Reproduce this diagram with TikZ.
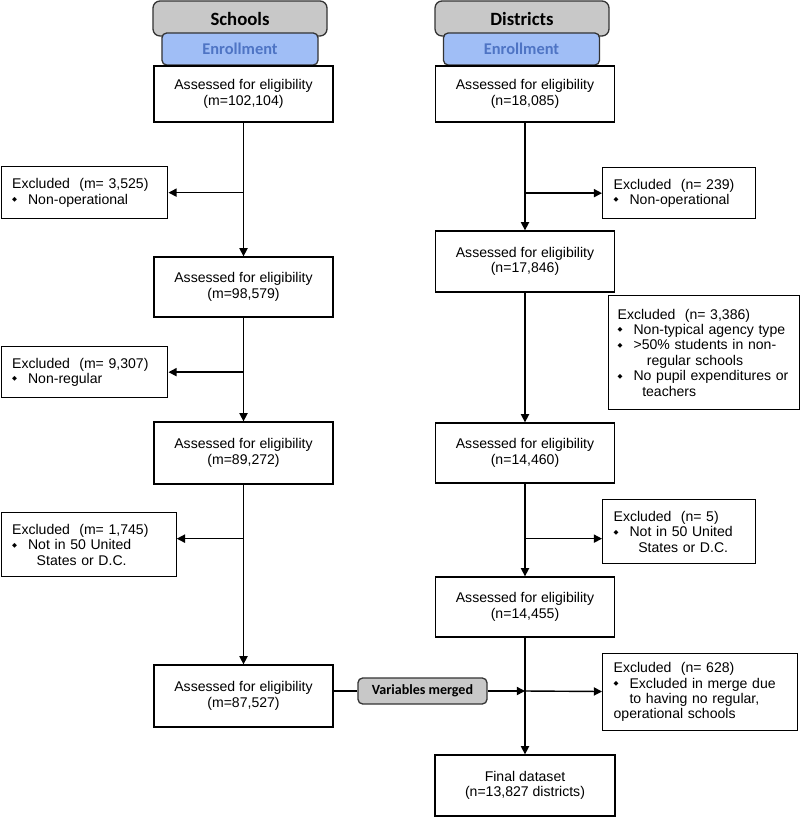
\documentclass[tikz,border=0pt]{standalone}
\usepackage{fontspec}
\setmainfont{Liberation Sans}
\newfontfamily\carlito{Carlito}
\newfontfamily\symfont{DejaVu Sans}
\usetikzlibrary{arrows.meta}
\definecolor{headgray}{RGB}{200,200,200}
\definecolor{enrollblue}{RGB}{160,190,246}
\definecolor{enrolltext}{RGB}{78,116,196}
\newcommand{\bul}{\makebox[13.6pt][l]{\raisebox{0.35ex}{\symfont\fontsize{5.5}{5.5}\selectfont ◆}}}
\newcommand{\ind}[1]{\hspace*{#1}}
\begin{document}
\begin{tikzpicture}[x=0.03cm,y=-0.03cm,
        box/.style={draw,line width=1.1pt,minimum width=5.37cm,align=center,font=\fontsize{12}{13.2}\selectfont},
        excl/.style={draw,line width=1.1pt,anchor=north west,align=left,inner xsep=0.33cm,font=\fontsize{12}{13.2}\selectfont},
        head/.style={draw=black!80,fill=headgray,rounded corners=6pt,line width=1.1pt,minimum width=5.22cm,minimum height=1.05cm,font=\carlito\bfseries\fontsize{16}{18}\selectfont},
        enroll/.style={draw=black!80,fill=enrollblue,rounded corners=4pt,line width=1.1pt,minimum width=4.68cm,minimum height=0.96cm,text=enrolltext,font=\carlito\bfseries\fontsize{14}{16}\selectfont},
        merge/.style={draw=black!80,fill=headgray,rounded corners=4pt,line width=1.1pt,minimum width=3.87cm,minimum height=0.78cm,font=\carlito\bfseries\fontsize{12}{14}\selectfont},
        arr/.style={line width=1.2pt,-{Triangle[length=7pt,width=7pt]}}]
    \useasboundingbox (0,0) rectangle (800,817);
    \node[head] (SchHead) at (240,18.5) {Schools};
    \node[enroll] (SchEnr) at (240,49) {Enrollment};
    \node[head] (DisHead) at (522,18.5) {Districts};
    \node[enroll] (DisEnr) at (521.5,49) {Enrollment};

    \node[box,minimum height=1.68cm] (L1) at (243.5,94) {Assessed for eligibility\\(m=102,104)};
    \node[box,minimum height=1.8cm] (L2) at (243.5,287) {Assessed for eligibility\\(m=98,579)};
    \node[box,minimum height=1.86cm] (L3) at (243.5,453) {Assessed for eligibility\\(m=89,272)};
    \node[box,minimum height=1.86cm] (L4) at (243.5,696) {Assessed for eligibility\\(m=87,527)};

    \node[box,minimum height=1.68cm] (R1) at (525,94) {Assessed for eligibility\\(n=18,085)};
    \node[box,minimum height=1.83cm] (R2) at (525,261.5) {Assessed for eligibility\\(n=17,846)};
    \node[box,minimum height=1.8cm] (R3) at (525,453) {Assessed for eligibility\\(n=14,460)};
    \node[box,minimum height=1.8cm] (R4) at (525,607) {Assessed for eligibility\\(n=14,455)};
    \node[box,minimum height=1.83cm,minimum width=5.4cm] (Final) at (525,785.5) {Final dataset\\(n=13,827 districts)};

    \node[excl,text width=4.34cm,minimum height=1.56cm] (EL1) at (0.5,166) {Excluded\ \ (m= 3,525)\\\bul Non-operational};
    \node[excl,text width=4.34cm,minimum height=1.53cm] (EL2) at (0.5,346) {Excluded\ \ (m= 9,307)\\\bul Non-regular};
    \node[excl,text width=4.59cm,minimum height=1.92cm] (EL3) at (0.5,512) {Excluded\ \ (m= 1,745)\\\bul Not in 50 United\\\ind{21pt}States or D.C.};
    \node[excl,text width=3.93cm,minimum height=1.53cm] (ER1) at (602,167) {Excluded\ \ (n= 239)\\\bul Non-operational};
    \node[excl,inner xsep=0.27cm,text width=5.19cm,minimum height=3.42cm] (ER2) at (608,295) {Excluded\ \ (n= 3,386)\\\bul Non-typical agency type\\\bul >50\% students in non-\\\ind{25pt}regular schools\\\bul No pupil expenditures or\\\ind{21pt}teachers};
    \node[excl,text width=3.93cm,minimum height=1.92cm] (ER3) at (602,499) {Excluded\ \ (n= 5)\\\bul Not in 50 United\\\ind{21pt}States or D.C.};
    \node[excl,text width=5.19cm,minimum height=2.31cm] (ER5) at (602,653) {Excluded\ \ (n= 628)\\\bul Excluded in merge due\\\ind{13.6pt}to having no regular,\\operational schools};

    \node[merge] (VM) at (422.5,691) {Variables merged};

    \coordinate (cL3) at ([yshift=0.18cm]EL3.east);
    \coordinate (cR3) at ([yshift=-0.21cm]ER3.west);

    \draw[arr] (L1) -- (L2);
    \draw[arr] (L2) -- (L3);
    \draw[arr] (L3) -- (L4);
    \draw[arr] (L1 |- EL1.east) -- (EL1.east);
    \draw[arr] (L2 |- EL2.east) -- (EL2.east);
    \draw[arr] (L3 |- cL3) -- (cL3);

    \draw[arr] (R1) -- (R2);
    \draw[arr] (R2) -- (R3);
    \draw[arr] (R3) -- (R4);
    \draw[arr] (R4) -- (Final);
    \draw[arr] (R1 |- ER1.west) -- (ER1.west);
    \draw[arr] (R3 |- cR3) -- (cR3);

    \draw[line width=1.1pt] (L4.east |- VM) -- (VM);
    \draw[arr] (VM) -- (VM -| R4);
    \draw[arr] (VM -| R4) -- (ER5);
\end{tikzpicture}
\end{document}
